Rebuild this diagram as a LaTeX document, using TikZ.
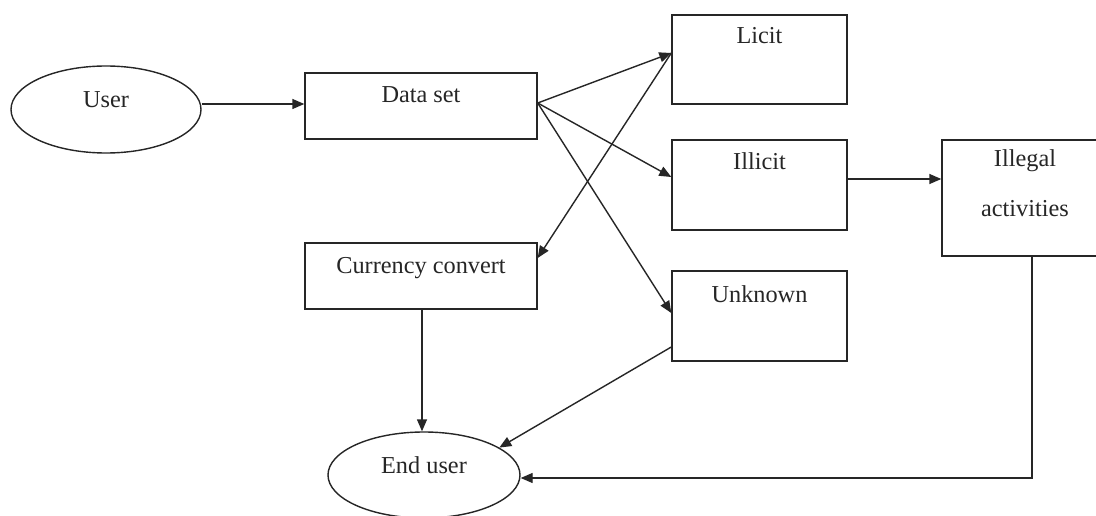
\documentclass[tikz,border=0pt]{standalone}
\usepackage{fontspec}
\setmainfont{Liberation Serif}
\usetikzlibrary{arrows.meta,shapes.geometric,calc}
\begin{document}
\begin{tikzpicture}[x=1pt,y=-1pt,
  line width=1.4pt,
  box/.style={draw=black!85,rectangle,inner sep=0pt},
  oval/.style={draw=black!85,ellipse,inner sep=0pt},
  lbl/.style={anchor=base,inner sep=0pt,font=\fontsize{24.3}{29}\selectfont,text=black!85},
  conn/.style={draw=black!85,-{Triangle[length=12pt,width=10pt]}},
  plain/.style={draw=black!85}]
\fill[white] (0,0) rectangle (1096,516);
\useasboundingbox (0,0) rectangle (1096,516);
\clip (0,0) rectangle (1096,516);
% nodes
\node[oval,minimum width=190pt,minimum height=87pt] (user) at (106,109.5) {};
\node[lbl] (tuser) at (106,108) {User};
\node[box,minimum width=232pt,minimum height=66pt] (ds) at (421,106) {};
\node[lbl] (tds) at (421,103) {Data set};
\node[box,minimum width=175pt,minimum height=89pt] (licit) at (759.5,59.5) {};
\node[lbl] (tlicit) at (759.5,44) {Licit};
\node[box,minimum width=175pt,minimum height=90pt] (illicit) at (759.5,185) {};
\node[lbl] (tillicit) at (759.5,170) {Illicit};
\node[box,minimum width=175pt,minimum height=90pt] (unknown) at (759.5,316) {};
\node[lbl] (tunknown) at (759.5,302) {Unknown};
\node[box,minimum width=166pt,minimum height=116pt] (illegal) at (1025,198) {};
\node[lbl] (tillegal) at (1025,167) {Illegal};
\node[lbl] (tactiv) at (1025,217) {activities};
\node[box,minimum width=232pt,minimum height=66pt] (cc) at (421,276) {};
\node[lbl] (tcc) at (421,273) {Currency convert};
\node[oval,minimum width=192pt,minimum height=86pt] (enduser) at (424,475) {};
\node[lbl] (tenduser) at (424,473) {End user};
% connectors
\draw[conn] ($(user.east)+(0,-5.5)$) -- ($(ds.west)+(0,-2)$);
\draw[conn] ($(ds.east)+(0,-3)$) -- ($(licit.west)+(0,-6.5)$);
\draw[conn] ($(ds.east)+(0,-3)$) -- ($(illicit.west)+(0,-8)$);
\draw[conn] ($(ds.east)+(0,-3)$) -- ($(unknown.west)+(0,-3)$);
\draw[conn] ($(licit.west)+(0,-6.5)$) -- ($(cc.east)+(0,-18)$);
\draw[conn] ($(illicit.east)+(0,-6)$) -- ($(illegal.west)+(0,-19)$);
\draw[conn] ($(cc.south)+(1,0)$) -- ($(enduser.north)+(-2,0)$);
\draw[conn] ($(unknown.west)+(0,31)$) -- (enduser.20);
\draw[conn] ($(illegal.south)+(7,0)$) |- ($(enduser.east)+(0,3)$);
\end{tikzpicture}
\end{document}
